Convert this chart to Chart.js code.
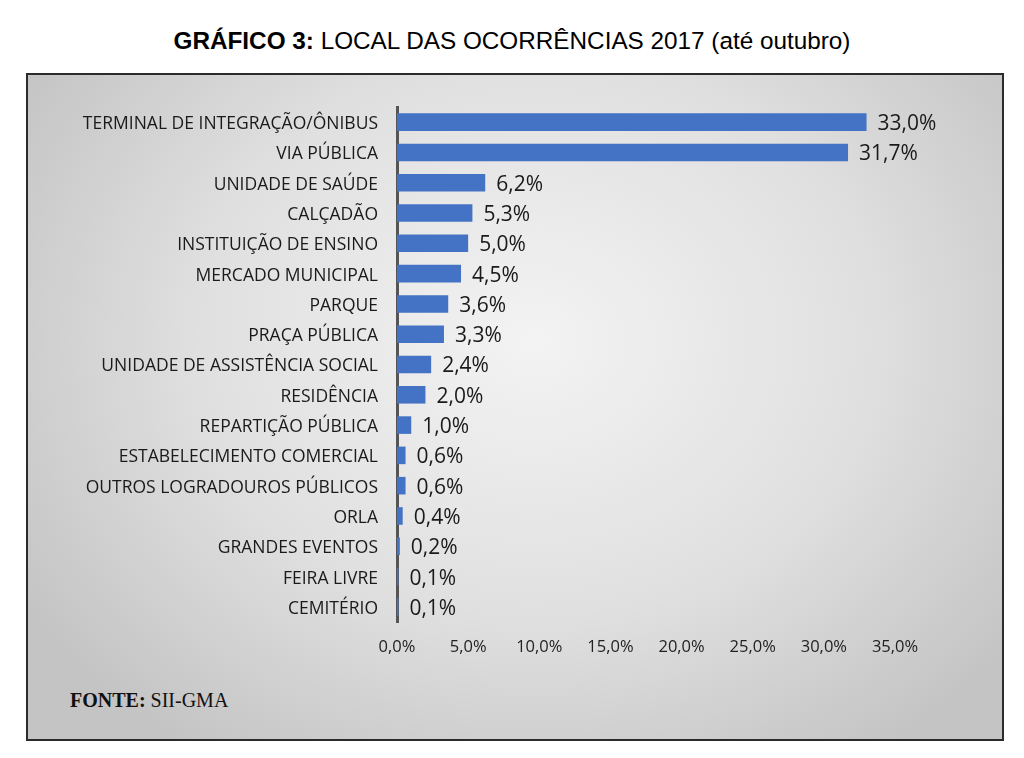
<!DOCTYPE html>
<html lang="pt-BR">
<head>
    <meta charset="UTF-8">
    <title>Gráfico 3 - Local das ocorrências 2017</title>
    <script src="https://cdn.jsdelivr.net/npm/chart.js"></script>
    <style>
        body, html {
            margin: 0;
            width: 1024px;
            height: 758px;
            background: #ffffff;
            overflow: hidden;
        }
        .title {
            position: absolute;
            left: 0;
            top: 27px;
            width: 1024px;
            text-align: center;
            font-family: 'Liberation Sans', Arial, sans-serif;
            font-size: 24.3px;
            color: #000;
        }
        .box {
            position: absolute;
            left: 26px;
            top: 73px;
            width: 974px;
            height: 664px;
            border: 2px solid #2b2b2b;
            background: radial-gradient(ellipse 62% 75% at 52% 40%, #f3f3f3 0%, #e0e0e0 55%, #c4c4c4 100%);
        }
        .source {
            position: absolute;
            left: 70px;
            top: 689px;
            font-family: 'Liberation Serif', 'Times New Roman', serif;
            font-size: 20px;
            color: #111;
        }
        #chart {
            position: absolute;
            left: 0;
            top: 0;
        }
    </style>
</head>
<body>
    <div class="title"><b>GRÁFICO 3:</b> LOCAL DAS OCORRÊNCIAS 2017 (até outubro)</div>
    <div class="box"></div>
    <div class="source"><b>FONTE:</b> SII-GMA</div>
    <div id="chart" style="width:1024px;height:758px;">
        <canvas id="localChart"></canvas>
    </div>

    <script>
        const locais = [
            'TERMINAL DE INTEGRAÇÃO/ÔNIBUS',
            'VIA PÚBLICA',
            'UNIDADE DE SAÚDE',
            'CALÇADÃO',
            'INSTITUIÇÃO DE ENSINO',
            'MERCADO MUNICIPAL',
            'PARQUE',
            'PRAÇA PÚBLICA',
            'UNIDADE DE ASSISTÊNCIA SOCIAL',
            'RESIDÊNCIA',
            'REPARTIÇÃO PÚBLICA',
            'ESTABELECIMENTO COMERCIAL',
            'OUTROS LOGRADOUROS PÚBLICOS',
            'ORLA',
            'GRANDES EVENTOS',
            'FEIRA LIVRE',
            'CEMITÉRIO'
        ];
        const percentuais = [33.0, 31.7, 6.2, 5.3, 5.0, 4.5, 3.6, 3.3, 2.4, 2.0, 1.0, 0.6, 0.6, 0.4, 0.2, 0.1, 0.1];
        const xMax = 35;
        const xStep = 5;

        const fmt = v => v.toFixed(1).replace('.', ',') + '%';

        // value labels to the right of each bar
        const valueLabels = {
            id: 'valueLabels',
            afterDatasetsDraw(chart) {
                const ctx = chart.ctx;
                const meta = chart.getDatasetMeta(0);
                ctx.save();
                ctx.font = '21px "Open Sans"';
                ctx.fillStyle = '#1a1a1a';
                ctx.textAlign = 'left';
                ctx.textBaseline = 'middle';
                meta.data.forEach((bar, i) => {
                    ctx.fillText(fmt(percentuais[i]), bar.x + 11, bar.y + 2);
                });
                ctx.restore();
            }
        };

        const localChart = new Chart(document.getElementById('localChart'), {
            type: 'bar',
            data: {
                labels: locais,
                datasets: [{
                    data: percentuais,
                    backgroundColor: '#4472c4',
                    borderWidth: 0,
                    barPercentage: 0.58,
                    categoryPercentage: 1.0
                }]
            },
            options: {
                indexAxis: 'y',
                responsive: true,
                maintainAspectRatio: false,
                animation: false,
                layout: {
                    padding: { top: 107, right: 129, bottom: 0, left: 0 }
                },
                plugins: {
                    legend: { display: false },
                    tooltip: { enabled: false }
                },
                scales: {
                    x: {
                        min: 0,
                        max: xMax,
                        grid: { display: false, drawTicks: false },
                        border: { display: false },
                        afterFit: s => { s.height = 136; },
                        ticks: {
                            stepSize: xStep,
                            padding: 15,
                            color: '#222',
                            font: { family: 'Open Sans', size: 16.5 },
                            callback: v => fmt(v)
                        }
                    },
                    y: {
                        grid: { display: false, drawTicks: false },
                        border: { display: true, color: '#555555', width: 3 },
                        afterFit: s => { s.width = 397; },
                        ticks: {
                            padding: 19,
                            labelOffset: 2,
                            color: '#1a1a1a',
                            font: { family: 'Open Sans', size: 17.5 }
                        }
                    }
                }
            },
            plugins: [valueLabels]
        });
    </script>
</body>
</html>
